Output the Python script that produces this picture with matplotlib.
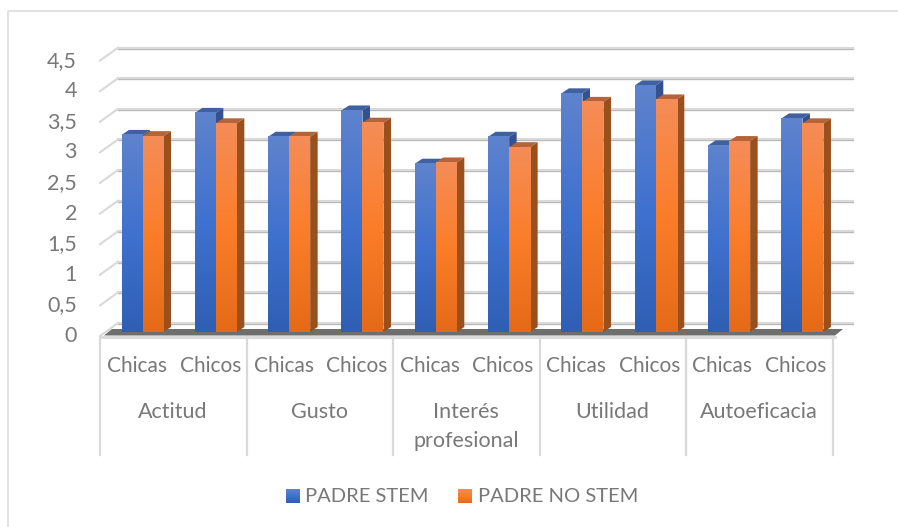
import matplotlib
matplotlib.use('Agg')
import matplotlib.pyplot as plt
import numpy as np
from matplotlib.colors import LinearSegmentedColormap
from matplotlib.patches import Polygon

plt.rcParams['font.family'] = ['Lato', 'DejaVu Sans']

groups = ['Actitud', 'Gusto', 'Interés\nprofesional', 'Utilidad', 'Autoeficacia']
subgroups = ['Chicas', 'Chicos']
series_names = ['PADRE STEM', 'PADRE NO STEM']
padre_stem = [3.22, 3.58, 3.19, 3.62, 2.75, 3.19, 3.90, 4.03, 3.05, 3.49]
padre_no_stem = [3.20, 3.41, 3.19, 3.42, 2.77, 3.02, 3.76, 3.80, 3.12, 3.41]
y_ticks = [0, 0.5, 1, 1.5, 2, 2.5, 3, 3.5, 4, 4.5]

W, H = 898, 527
GREY = '#d9d9d9'
TEXT = '#787878'

# pixels of the picture
X0, XSTEP = 142.5, 73.33
Y0, YSTEP = 332.0, 61.2
BAR = 21.0 / XSTEP
DX, DY = 7.5 / XSTEP, 5.0 / YSTEP

blue_cm = LinearSegmentedColormap.from_list('b', ['#5f83cd', '#3f71cf', '#2f5fb4'])
orange_cm = LinearSegmentedColormap.from_list('o', ['#f58d58', '#fb7d29', '#e56a18'])
grad = np.linspace(0, 1, 128).reshape(-1, 1)

fig = plt.figure(figsize=(W / 100, H / 100), dpi=100)

# background axes in pixels for the frame, the category table and the legend
bg = fig.add_axes([0, 0, 1, 1])
bg.set_xlim(0, W)
bg.set_ylim(H, 0)
bg.axis('off')
bg.plot([7.5, 7.5, W], [H, 10.5, 10.5], color='#e2e2e2', lw=1.4)

# value axes, same area, scaled so that bars come from the data
ax = fig.add_axes([0, 0, 1, 1])
ax.patch.set_alpha(0)
ax.set_xlim(-X0 / XSTEP, (W - X0) / XSTEP)
ax.set_ylim((Y0 - H) / YSTEP, Y0 / YSTEP)
ax.axis('off')
ax.set_autoscale_on(False)

# back wall and left wall grid
wall_dy = 9.0 / YSTEP
tick_dy = -4.0 / YSTEP
wall_left = (118 - X0) / XSTEP
wall_right = (853 - X0) / XSTEP
tick_x = (100 - X0) / XSTEP
for v in y_ticks:
    ax.plot([wall_left, wall_right], [v + wall_dy - 1 / YSTEP] * 2, color='#b9b9b9', lw=1.0, zorder=1)
    ax.plot([wall_left, wall_right], [v + wall_dy] * 2, color=GREY, lw=1.5, zorder=1.1)
    ax.plot([tick_x, wall_left], [v + tick_dy, v + wall_dy], color=GREY, lw=1.5, zorder=1)
    ax.text((77 - X0) / XSTEP, v + tick_dy, str(v).replace('.', ','), ha='right', va='center',
            fontsize=15.5, color=TEXT)

# floor
ax.add_patch(Polygon([((104 - X0) / XSTEP, -3.5 / YSTEP), ((835 - X0) / XSTEP, -3.5 / YSTEP),
                      ((843 - X0) / XSTEP, 3 / YSTEP), ((112 - X0) / XSTEP, 3 / YSTEP)],
                     fc='#6e6e6e', ec='none', zorder=2))


def draw_bar(left, val, cmap, side, top, z):
    ax.add_patch(Polygon([(left, val), (left + BAR, val), (left + BAR + DX, val + DY), (left + DX, val + DY)],
                         fc=top, ec='none', zorder=z))
    ax.add_patch(Polygon([(left + BAR, 0), (left + BAR + DX, DY), (left + BAR + DX, val + DY), (left + BAR, val)],
                         fc=side, ec='none', zorder=z))
    ax.imshow(grad, extent=(left, left + BAR, 0, val), cmap=cmap, aspect='auto', zorder=z + 0.5,
              interpolation='bilinear')


for i in range(len(padre_stem)):
    draw_bar(i - BAR, padre_stem[i], blue_cm, '#33508f', '#41609f', 3 + i)
    draw_bar(i, padre_no_stem[i], orange_cm, '#99501c', '#b5643a', 3.6 + i)
ax.set_xlim(-X0 / XSTEP, (W - X0) / XSTEP)
ax.set_ylim((Y0 - H) / YSTEP, Y0 / YSTEP)

# category table
bg.plot([100, 835], [337, 337], color=GREY, lw=2)
for k in range(len(groups) + 1):
    x = 100 + k * 146.5
    bg.plot([x, x], [337, 455], color=GREY, lw=1.6)
for i in range(len(padre_stem)):
    bg.text(137.5 + i * 73.1, 366, subgroups[i % 2], ha='center', va='center', fontsize=15, color=TEXT)
for k, name in enumerate(groups):
    parts = name.split('\n')
    bg.text(173 + k * 146.5, 412, parts[0], ha='center', va='center', fontsize=15.5, color=TEXT)
    if len(parts) > 1:
        bg.text(173 + k * 146.5, 441, parts[1], ha='center', va='center', fontsize=15.5, color=TEXT)

# legend
for sx, tx, name, cmap in [(286, 305, series_names[0], blue_cm), (458, 478, series_names[1], orange_cm)]:
    bg.imshow(grad, extent=(sx, sx + 14, 503, 489), cmap=cmap, aspect='auto', origin='upper', zorder=2)
    bg.text(tx, 496, name, ha='left', va='center', fontsize=14.5, color=TEXT)
bg.set_xlim(0, W)
bg.set_ylim(H, 0)

fig.savefig('out.png', dpi=100)
